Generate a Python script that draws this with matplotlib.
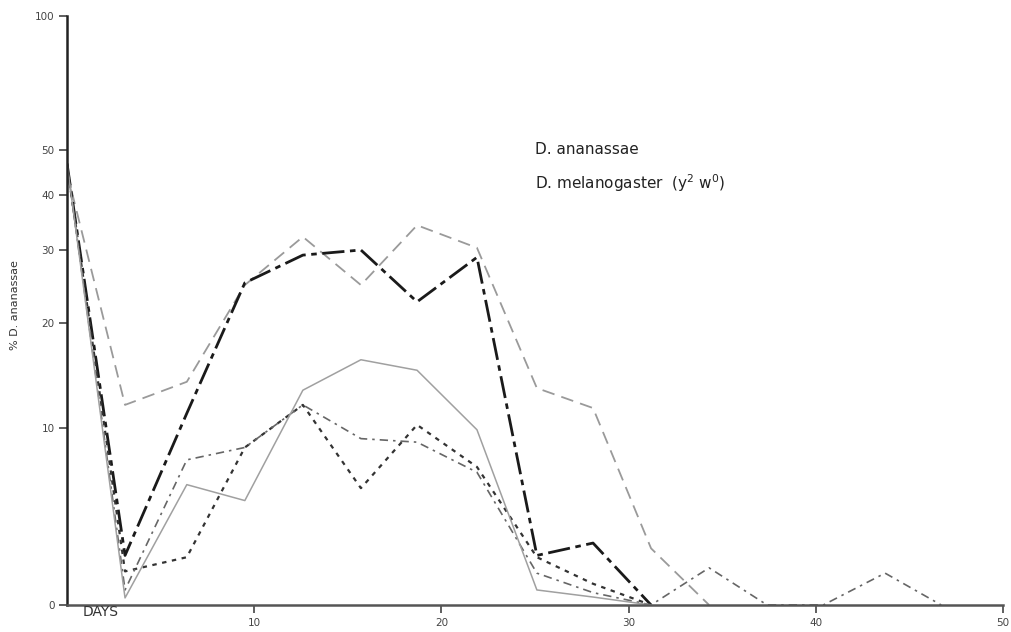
import numpy as np
import matplotlib
matplotlib.use("Agg")
import matplotlib.pyplot as plt

# sampling days
days = [0, 3.1, 6.4, 9.5, 12.6, 15.7, 18.7, 21.9, 25.1, 28.1, 31.2, 34.3, 37.4, 40.4, 43.7, 46.7]

# % D. ananassae per cage
cage_a = [45, 12.2, 14.4, 25.2, 32.4, 25.2, 34.5, 30.4, 13.8, 11.9, 3.2, 0]
cage_b = [47, 2.8, 11.4, 25.5, 29.3, 30.0, 22.9, 29.0, 2.8, 3.5, 0]
cage_c = [47, 1.9, 2.7, 8.9, 12.2, 6.6, 10.3, 7.8, 2.7, 1.2, 0]
cage_d = [47, 0.85, 8.2, 8.9, 12.2, 9.4, 9.2, 7.5, 1.8, 0.7, 0, 2.1, 0, 0, 1.8, 0]
cage_e = [47, 0.4, 6.8, 5.9, 13.6, 16.5, 15.5, 9.9, 0.85, 0.45, 0]

# the y axis of the original is compressed, not linear: tick values and
# where they sit (pixels above the x axis)
y_ticks = [0, 10, 20, 30, 40, 50, 100]
y_pix = [0, 177, 282, 355, 410, 455, 589]

x_ticks = [10, 20, 30, 40, 50]


def fwd(v):
    return np.interp(v, y_ticks, y_pix)


def inv(p):
    return np.interp(p, y_pix, y_ticks)


plt.rcParams['font.family'] = ['DejaVu Sans']

fig = plt.figure(figsize=(10.12, 6.32), dpi=100)
ax = fig.add_axes([67 / 1012, 27 / 632, 936 / 1012, 589 / 632])
ax.set_yscale('function', functions=(fwd, inv))
ax.set_xlim(0, 50)
ax.set_ylim(0, 100)

ax.plot(days[:len(cage_a)], cage_a, color='#9a9a9a', lw=1.3, ls=(0, (7, 4)))
ax.plot(days[:len(cage_b)], cage_b, color='#1a1a1a', lw=2.0, ls=(0, (8, 2, 2, 2)))
ax.plot(days[:len(cage_c)], cage_c, color='#333333', lw=1.6, ls=(0, (2, 2.5)))
ax.plot(days[:len(cage_d)], cage_d, color='#666666', lw=1.2, ls=(0, (5, 3, 1.5, 3)))
ax.plot(days[:len(cage_e)], cage_e, color='#a0a0a0', lw=1.1, ls='-')

ax.spines['top'].set_visible(False)
ax.spines['right'].set_visible(False)
ax.spines['left'].set_linewidth(1.8)
ax.spines['bottom'].set_linewidth(1.8)
ax.spines['left'].set_color('#222222')
ax.spines['bottom'].set_color('#555555')

ax.set_yticks(y_ticks)
ax.set_yticklabels([str(t) for t in y_ticks])
ax.set_xticks(x_ticks)
ax.set_xticklabels([str(t) for t in x_ticks])
ax.tick_params(axis='both', direction='out', length=6, width=1.2, labelsize=7.5,
               colors='#444444', pad=3)
ax.yaxis.set_minor_locator(matplotlib.ticker.NullLocator())
ax.xaxis.set_minor_locator(matplotlib.ticker.NullLocator())

ax.text(1.8, -4.5, 'DAYS', fontsize=10, color='#333333', ha='center', va='top',
        transform=ax.transData, clip_on=False)
fig.text(15 / 1012, 1 - 305 / 632, '% D. ananassae', rotation=90, fontsize=8,
         color='#333333', ha='center', va='center')

fig.text(535 / 1012, 1 - 150 / 632, 'D. ananassae', fontsize=11, color='#222222',
         ha='left', va='center')
fig.text(535 / 1012, 1 - 183 / 632, 'D. melanogaster  (y$^{2}$ w$^{0}$)', fontsize=11,
         color='#222222', ha='left', va='center')

fig.savefig('out.png', dpi=100)
